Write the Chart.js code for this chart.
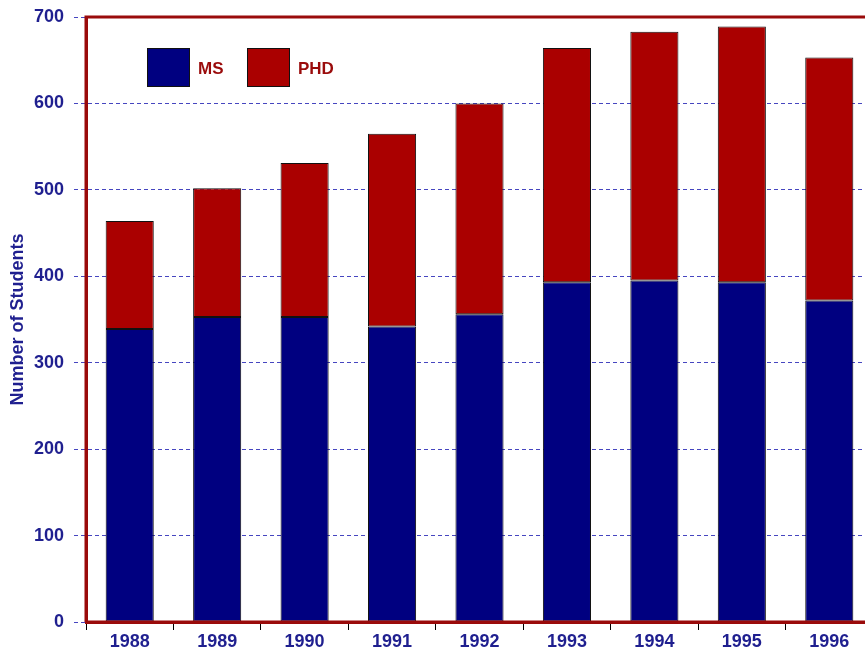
<!DOCTYPE html>
<html>
<head>
<meta charset="utf-8">
<script src="https://cdn.jsdelivr.net/npm/chart.js@4/dist/chart.umd.min.js"></script>
<style>
  html, body { margin: 0; padding: 0; background: #fff; overflow: hidden; width: 865px; height: 651px; }
  #wrap { position: absolute; left: 0; top: 0; width: 873px; height: 651px; }
</style>
</head>
<body>
<div id="wrap"><canvas id="c" width="873" height="651"></canvas></div>
<script>
const years = ['1988','1989','1990','1991','1992','1993','1994','1995','1996'];
const msValues  = [339, 353, 353, 342, 356, 393, 395, 393, 372];
const phdValues = [125, 149, 178, 223, 244, 271, 288, 296, 281];
const yTicks = [0, 100, 200, 300, 400, 500, 600, 700];
const seriesNames = ['MS', 'PHD'];
const yTitle = 'Number of Students';

const NAVY = '#1f1f8f';
const GRID = '#4646c0';
const FRAME = '#9a0b0b';
const FONT = '"Liberation Sans", Arial, sans-serif';

const framePlugin = {
  id: 'frame',
  afterDraw(chart) {
    const {ctx, chartArea: a} = chart;
    ctx.save();
    ctx.strokeStyle = FRAME;
    ctx.lineWidth = 3;
    ctx.beginPath();
    ctx.moveTo(a.left, a.bottom);
    ctx.lineTo(a.left, a.top);
    ctx.lineTo(a.right, a.top);
    ctx.lineTo(a.right, a.bottom);
    ctx.stroke();
    ctx.beginPath();
    ctx.moveTo(a.left, a.bottom);
    ctx.lineTo(a.right, a.bottom);
    ctx.stroke();
    // legend inside plot area
    const boxes = [{x: 147, y: 48}, {x: 247, y: 48}];
    chart.data.datasets.forEach((ds, i) => {
      const b = boxes[i];
      ctx.fillStyle = ds.backgroundColor;
      ctx.fillRect(b.x, b.y, 43, 39);
      ctx.strokeStyle = '#111';
      ctx.lineWidth = 1;
      ctx.strokeRect(b.x + 0.5, b.y + 0.5, 42, 38);
      ctx.fillStyle = FRAME;
      ctx.font = 'bold 17px ' + FONT;
      ctx.textBaseline = 'middle';
      ctx.textAlign = 'left';
      ctx.fillText(ds.label, b.x + 51, b.y + 21);
    });
    ctx.restore();
  }
};

new Chart(document.getElementById('c'), {
  type: 'bar',
  data: {
    labels: years,
    datasets: [
      { label: seriesNames[0], data: msValues, backgroundColor: '#000080', borderColor: '#111', borderWidth: 1, borderSkipped: false },
      { label: seriesNames[1], data: phdValues, backgroundColor: '#aa0000', borderColor: '#111', borderWidth: 1, borderSkipped: false }
    ]
  },
  options: {
    responsive: false,
    animation: false,
    devicePixelRatio: 1,
    layout: { padding: { top: 17, left: 0, right: 0, bottom: 0 } },
    datasets: { bar: { categoryPercentage: 1, barPercentage: 0.55 } },
    plugins: { legend: { display: false }, tooltip: { enabled: false } },
    scales: {
      x: {
        stacked: true,
        offset: true,
        grid: { display: true, drawOnChartArea: false, offset: true, drawTicks: true, tickLength: 8, tickColor: '#000', tickWidth: 1 },
        border: { display: true, color: FRAME, width: 3 },
        ticks: { color: NAVY, font: { family: FONT, size: 18, weight: 'bold' }, padding: 1, maxRotation: 0 },
        afterFit(scale) { scale.height = 29; scale.paddingLeft = 0; scale.paddingRight = 0; }
      },
      y: {
        stacked: true,
        min: 0,
        max: 700,
        afterBuildTicks(scale) { scale.ticks = yTicks.map(v => ({ value: v })); },
        grid: { color: GRID, lineWidth: 1, tickLength: 12, tickColor: GRID, tickBorderDash: [4, 3], tickWidth: 1 },
        border: { display: true, color: FRAME, width: 3, dash: [4, 3] },
        ticks: { color: NAVY, font: { family: FONT, size: 18, weight: 'bold' }, padding: 10 },
        title: { display: true, text: yTitle, color: NAVY, font: { family: FONT, size: 18, weight: 'bold' }, padding: { top: 7, bottom: 0 } },
        afterFit(scale) { scale.width = 86; scale.paddingTop = 0; scale.paddingBottom = 0; }
      }
    }
  },
  plugins: [framePlugin]
});
</script>
</body>
</html>
